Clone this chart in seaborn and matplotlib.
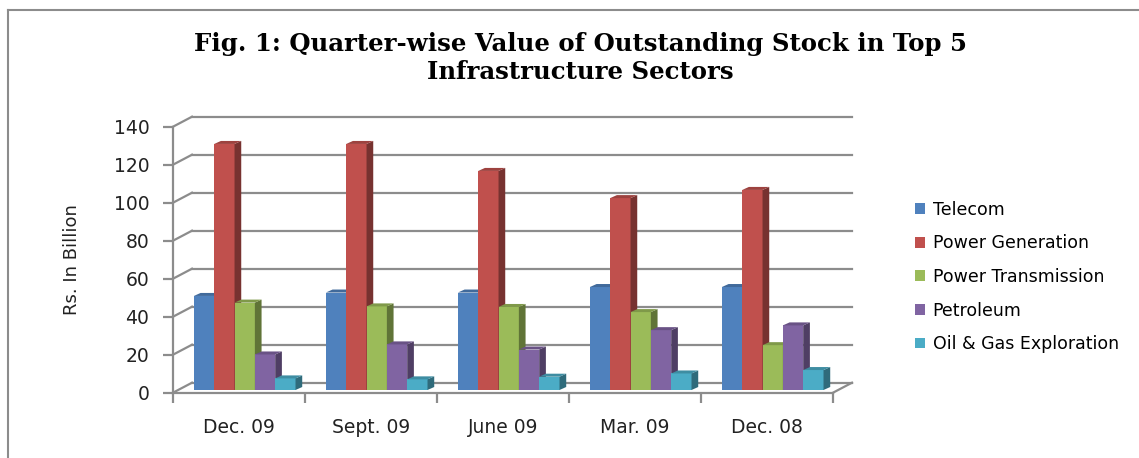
import numpy as np
import pandas as pd
import matplotlib
matplotlib.use("Agg")
import matplotlib.pyplot as plt
import seaborn as sns
from matplotlib.patches import Polygon
from matplotlib.lines import Line2D
import matplotlib.colors as mcolors

# data
quarters = ["Dec. 09", "Sept. 09", "June 09", "Mar. 09", "Dec. 08"]
sectors = ["Telecom", "Power Generation", "Power Transmission", "Petroleum", "Oil & Gas Exploration"]
telecom = [49.5, 51.3, 51.3, 54.2, 54.2]
power_gen = [129.5, 129.5, 115.3, 101.0, 105.3]
power_trans = [46.0, 44.0, 43.7, 41.0, 23.6]
petroleum = [18.7, 24.0, 21.3, 31.5, 34.0]
oil_gas = [6.1, 5.6, 7.0, 8.7, 10.5]
colors = ["#4F81BD", "#C0504D", "#9BBB59", "#8064A2", "#4BACC6"]

rows = []
for name, vals in zip(sectors, [telecom, power_gen, power_trans, petroleum, oil_gas]):
    for q, v in zip(quarters, vals):
        rows.append({"Quarter": q, "Sector": name, "Value": v})
df = pd.DataFrame(rows)

W, H = 1139, 458
fig = plt.figure(figsize=(W / 100, H / 100), dpi=100)
ax_l, ax_b, ax_w, ax_h = 173 / W, 65.3 / H, 660 / W, 266 / H
ax = fig.add_axes([ax_l, ax_b, ax_w, ax_h])

sns.barplot(data=df, x="Quarter", y="Value", hue="Sector", palette=colors,
            width=0.77, saturation=1, linewidth=0, ax=ax, legend=True)

ax.set_xlim(-0.5, 4.5)
ax.set_ylim(0, 140)
ax.set_facecolor("none")

# pixel -> data conversions
ppx = W * ax_w / 5.0
ppy = H * ax_h / 140.0
grid_c = "#8c8c8c"

# back wall, left wall and floor edge
bx, by = 19 / ppx, 10 / ppy
yt = np.arange(0, 141, 20)
for y in yt:
    ax.add_line(Line2D([-0.5 + bx, 4.5 + bx], [y + by, y + by], color=grid_c, lw=1.6, zorder=0, clip_on=False))
    ax.add_line(Line2D([-0.5, -0.5 + bx], [y, y + by], color=grid_c, lw=1.6, zorder=0, clip_on=False))
ax.add_line(Line2D([4.5, 4.5 + bx], [0, by], color=grid_c, lw=1.6, zorder=0, clip_on=False))

# bar shift and depth faces
sx, sy = 5.7 / ppx, 2.7 / ppy
dx, dy = 6.7 / ppx, 3.0 / ppy
z = 2
for gi in range(len(quarters)):
    for ci, cont in enumerate(ax.containers):
        p = cont.patches[gi]
        x0 = p.get_x() + sx
        w = p.get_width()
        h = p.get_height()
        p.set_x(x0)
        p.set_y(sy)
        p.set_clip_on(False)
        p.set_zorder(z)
        base = np.array(mcolors.to_rgb(colors[ci]))
        side = Polygon([(x0 + w, sy), (x0 + w + dx, sy + dy), (x0 + w + dx, sy + h + dy), (x0 + w, sy + h)],
                       closed=True, facecolor=base * 0.62, edgecolor="none", zorder=z, clip_on=False)
        top = Polygon([(x0, sy + h), (x0 + w, sy + h), (x0 + w + dx, sy + h + dy), (x0 + dx, sy + h + dy)],
                      closed=True, facecolor=base * 0.82, edgecolor="none", zorder=z, clip_on=False)
        ax.add_patch(side)
        ax.add_patch(top)
        z += 1

# axes styling
for s in ["top", "right"]:
    ax.spines[s].set_visible(False)
for s in ["left", "bottom"]:
    ax.spines[s].set_color(grid_c)
    ax.spines[s].set_linewidth(1.6)
ax.set_yticks(yt)
ax.tick_params(axis="y", length=7, width=1.6, color=grid_c, labelsize=13.5, labelcolor="#222222", pad=10)
ax.tick_params(axis="x", which="major", length=0, labelsize=13.5, labelcolor="#222222", pad=18)
ax.set_xticks(np.arange(-0.5, 4.6, 1), minor=True)
ax.tick_params(axis="x", which="minor", length=7, width=1.6, color=grid_c)
ax.set_xlabel("")
ax.set_ylabel("")
for lab in ax.get_xticklabels() + ax.get_yticklabels():
    lab.set_fontfamily("DejaVu Sans")

fig.text(72 / W, 1 - 260 / H, "Rs. In Billion", rotation=90, ha="center", va="center",
         fontsize=13, family="DejaVu Sans", color="#222222")

fig.text(580 / W, 1 - 58 / H, "Fig. 1: Quarter-wise Value of Outstanding Stock in Top 5\nInfrastructure Sectors",
         ha="center", va="center", fontsize=17.6, fontweight="bold", family="DejaVu Serif",
         linespacing=1.18)

handles, labels = ax.get_legend_handles_labels()
ax.legend(handles, labels, loc="upper left", bbox_to_anchor=(899 / W, 1 - 185 / H),
          bbox_transform=fig.transFigure, frameon=False, handlelength=0.58, handleheight=0.58,
          handletextpad=0.45, labelspacing=0.9, prop={"family": "DejaVu Sans", "size": 12.5})

# outer chart border
fig.add_artist(Line2D([8 / W, 8 / W], [0, 1 - 10 / H], transform=fig.transFigure, color="#8c8c8c", lw=1.5))
fig.add_artist(Line2D([8 / W, 1], [1 - 10 / H, 1 - 10 / H], transform=fig.transFigure, color="#8c8c8c", lw=1.5))

fig.savefig("out.png", dpi=100, facecolor="white")
